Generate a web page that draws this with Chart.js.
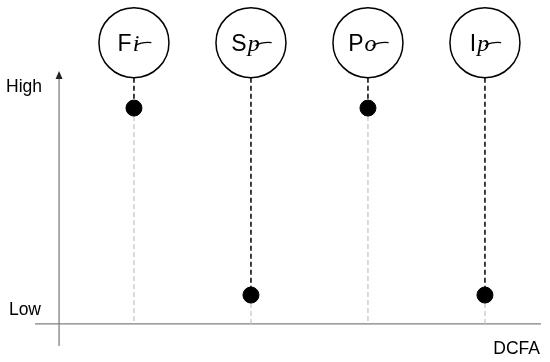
<!DOCTYPE html>
<html>
<head>
<meta charset="utf-8">
<script src="https://cdn.jsdelivr.net/npm/chart.js@4"></script>
<style>
  html, body { margin: 0; padding: 0; background: #fff; }
  #wrap { width: 550px; height: 362px; }
</style>
</head>
<body>
<div id="wrap"><canvas id="chart"></canvas></div>
<script>
const categories = ['F', 'S', 'P', 'I'];
const subscripts = ['i', 'p', 'o', 'p'];
const positions = [1, 2, 3, 4];
const levels = [1, 0, 1, 0]; // 1 = High, 0 = Low
const yTickLabels = ['Low', 'High'];
const xAxisTitle = 'DCFA';

const points = positions.map((x, i) => ({ x: x, y: levels[i] }));

const axisY = -0.154;   // where the x axis crosses
const axisX = 0.36;     // where the y axis crosses
const circleY = 1.35;

const decorPlugin = {
  id: 'decor',
  beforeDatasetsDraw(chart) {
    const ctx = chart.ctx;
    const xs = chart.scales.x;
    const ys = chart.scales.y;
    const x0 = xs.getPixelForValue(axisX);
    const y0 = ys.getPixelForValue(axisY);
    ctx.save();

    // axes
    ctx.strokeStyle = '#808080';
    ctx.lineWidth = 1.3;
    ctx.beginPath();
    ctx.moveTo(35, y0);
    ctx.lineTo(541, y0);
    ctx.moveTo(x0, 346);
    ctx.lineTo(x0, 77);
    ctx.stroke();
    ctx.fillStyle = '#222';
    ctx.beginPath();
    ctx.moveTo(x0, 71);
    ctx.lineTo(x0 - 3.5, 79);
    ctx.lineTo(x0 + 3.5, 79);
    ctx.closePath();
    ctx.fill();

    // texts
    ctx.fillStyle = '#000';
    ctx.font = '17.5px "Liberation Sans", Arial, sans-serif';
    ctx.textAlign = 'right';
    ctx.textBaseline = 'middle';
    ctx.fillText(yTickLabels[1], 42, ys.getPixelForValue(1.11));
    ctx.fillText(yTickLabels[0], 41, ys.getPixelForValue(-0.08));
    ctx.fillText(xAxisTitle, 540, 349);

    const r = 35;
    const cy = ys.getPixelForValue(circleY);
    const meta = chart.getDatasetMeta(0);
    meta.data.forEach((pt, i) => {
      const px = pt.x;
      // gray dashed to the x axis
      ctx.setLineDash([5, 3]);
      ctx.strokeStyle = '#c8c8c8';
      ctx.lineWidth = 1.3;
      ctx.beginPath();
      ctx.moveTo(px, pt.y);
      ctx.lineTo(px, y0);
      ctx.stroke();
      // black dashed from circle to point
      ctx.strokeStyle = '#000';
      ctx.lineWidth = 1.5;
      ctx.beginPath();
      ctx.moveTo(px, cy + r);
      ctx.lineTo(px, pt.y);
      ctx.stroke();
      ctx.setLineDash([]);
      // circle
      ctx.lineWidth = 1.5;
      ctx.beginPath();
      ctx.arc(px, cy, r, 0, Math.PI * 2);
      ctx.stroke();
      // label
      ctx.font = '23px "Liberation Sans", Arial, sans-serif';
      const main = categories[i];
      const wMain = ctx.measureText(main).width;
      ctx.font = 'italic 24px "Liberation Serif", serif';
      const wGlyph = ctx.measureText(subscripts[i]).width;
      const wSub = wGlyph + 12;
      const start = px - (wMain + wSub) / 2;
      ctx.textAlign = 'left';
      ctx.textBaseline = 'alphabetic';
      ctx.font = '23px "Liberation Sans", Arial, sans-serif';
      ctx.fillText(main, start, cy + 8);
      ctx.font = 'italic 24px "Liberation Serif", serif';
      ctx.fillText(subscripts[i], start + wMain + 1, cy + 8);
      // little tail stroke like the handwriting
      ctx.lineWidth = 1.2;
      ctx.beginPath();
      ctx.moveTo(start + wMain + wGlyph - 3, cy + 3);
      ctx.quadraticCurveTo(start + wMain + wGlyph + 4, cy - 1, start + wMain + wSub + 1, cy);
      ctx.stroke();
    });
    ctx.restore();
  }
};

new Chart(document.getElementById('chart'), {
  type: 'scatter',
  data: {
    datasets: [{
      data: points,
      backgroundColor: '#000',
      borderColor: '#000',
      pointRadius: 8,
      pointHoverRadius: 8
    }]
  },
  options: {
    responsive: true,
    maintainAspectRatio: false,
    animation: false,
    layout: { padding: 0, autoPadding: false },
    plugins: { legend: { display: false }, tooltip: { enabled: false } },
    scales: {
      x: { type: 'linear', display: false, min: -0.145, max: 4.556 },
      y: { type: 'linear', display: false, min: -0.358, max: 1.578 }
    }
  },
  plugins: [decorPlugin]
});
</script>
</body>
</html>
